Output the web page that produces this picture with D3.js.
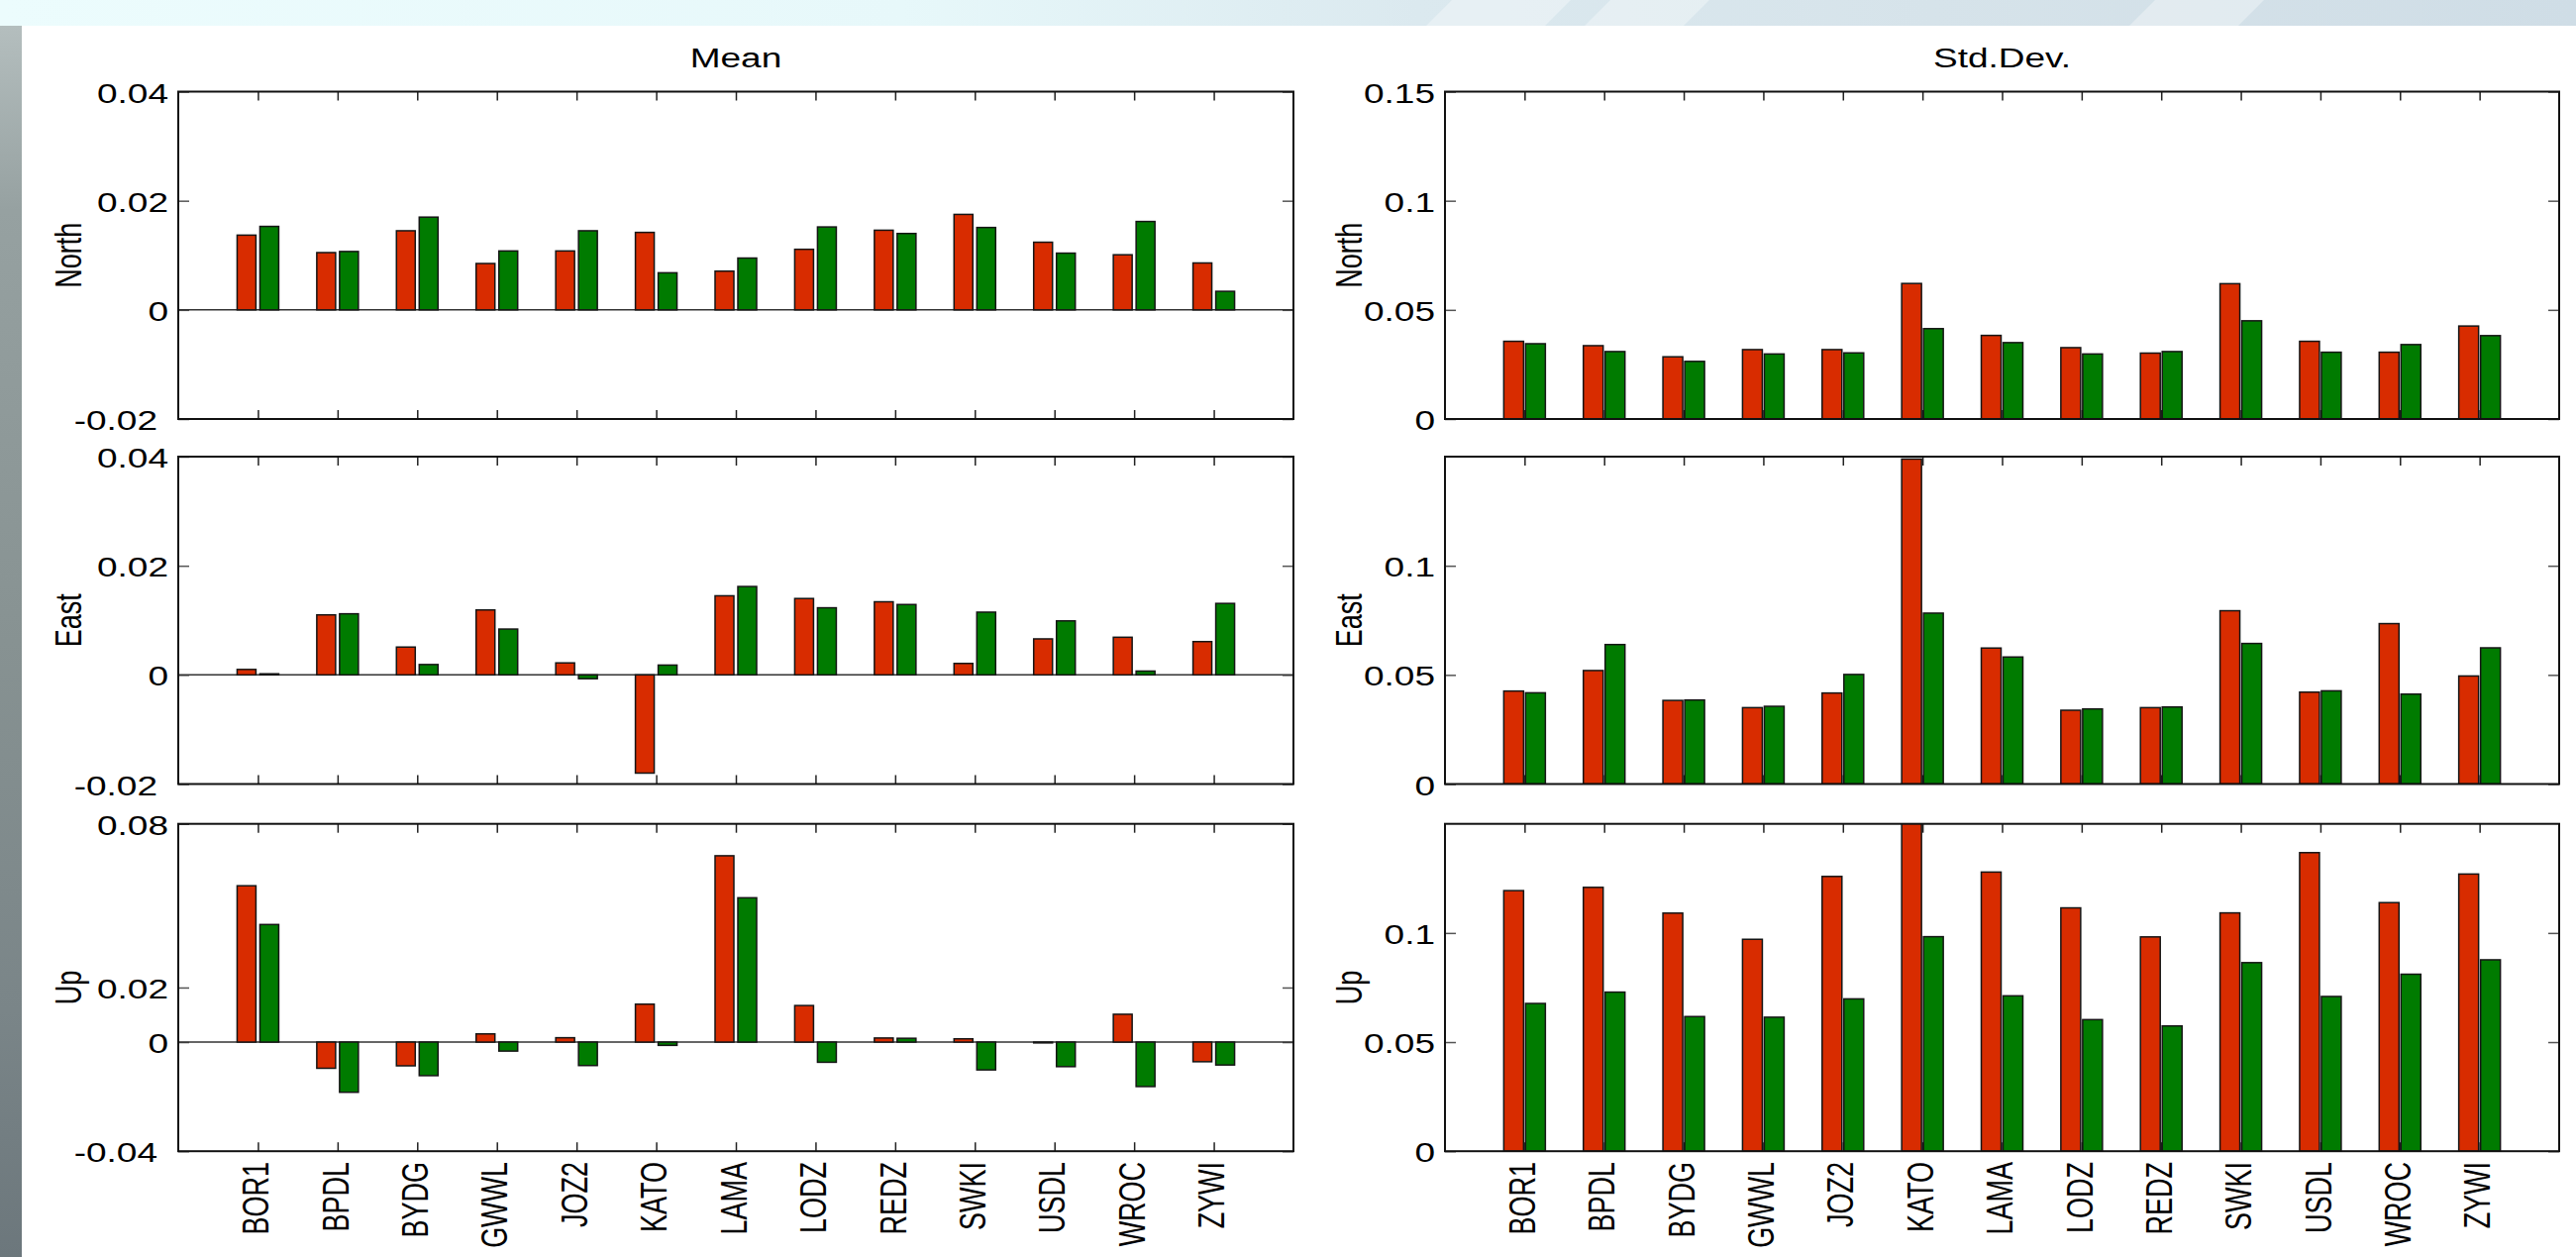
<!DOCTYPE html>
<html>
<head>
<meta charset="utf-8">
<script src="https://cdn.jsdelivr.net/npm/d3@7/dist/d3.min.js"></script>
<style>
  html, body { margin: 0; padding: 0; background: #ffffff; }
  svg { display: block; }
  text { font-family: "Liberation Sans", Arial, Helvetica, sans-serif; fill: #000; }
</style>
</head>
<body>
<svg id="fig" width="2601" height="1269"></svg>
<script>
// GPS stations along the horizontal axis
const stations = ["BOR1", "BPDL", "BYDG", "GWWL", "JOZ2", "KATO", "LAMA", "LODZ", "REDZ", "SWKI", "USDL", "WROC", "ZYWI"];

// Mean of the residuals [m] — red = first solution, green = second solution
const meanNorthRed   = [0.0137, 0.0105, 0.0145, 0.0085, 0.0108, 0.0142, 0.0071, 0.0111, 0.0146, 0.0175, 0.0124, 0.0101, 0.0086];
const meanNorthGreen = [0.0153, 0.0107, 0.0170, 0.0108, 0.0145, 0.0068, 0.0095, 0.0152, 0.0140, 0.0151, 0.0104, 0.0162, 0.0034];
const meanEastRed    = [0.0010, 0.0110, 0.0051, 0.0119, 0.0022, -0.0180, 0.0145, 0.0140, 0.0134, 0.0021, 0.0066, 0.0069, 0.0061];
const meanEastGreen  = [0.0002, 0.0112, 0.0019, 0.0084, -0.0007, 0.0018, 0.0162, 0.0123, 0.0129, 0.0115, 0.0099, 0.0007, 0.0131];
const meanUpRed      = [0.0573, -0.0096, -0.0087, 0.0030, 0.0016, 0.0139, 0.0683, 0.0134, 0.0015, 0.0012, -0.0003, 0.0102, -0.0072];
const meanUpGreen    = [0.0431, -0.0184, -0.0123, -0.0033, -0.0086, -0.0012, 0.0529, -0.0074, 0.0014, -0.0102, -0.0090, -0.0163, -0.0084];

// Standard deviation of the residuals [m]
const sdNorthRed   = [0.0356, 0.0336, 0.0285, 0.0318, 0.0318, 0.0621, 0.0383, 0.0327, 0.0302, 0.0620, 0.0356, 0.0306, 0.0426];
const sdNorthGreen = [0.0345, 0.0309, 0.0264, 0.0298, 0.0303, 0.0414, 0.0350, 0.0298, 0.0309, 0.0450, 0.0306, 0.0341, 0.0382];
const sdEastRed    = [0.0426, 0.0520, 0.0383, 0.0350, 0.0417, 0.1489, 0.0623, 0.0338, 0.0350, 0.0794, 0.0421, 0.0735, 0.0495];
const sdEastGreen  = [0.0418, 0.0639, 0.0385, 0.0356, 0.0502, 0.0783, 0.0582, 0.0344, 0.0353, 0.0644, 0.0427, 0.0412, 0.0624];
const sdUpRed      = [0.1194, 0.1209, 0.1091, 0.0971, 0.1259, 0.1520, 0.1279, 0.1115, 0.0982, 0.1092, 0.1368, 0.1139, 0.1270];
const sdUpGreen    = [0.0677, 0.0729, 0.0617, 0.0614, 0.0698, 0.0983, 0.0712, 0.0603, 0.0574, 0.0864, 0.0709, 0.0811, 0.0877];

// Axis limits and tick values of each panel
const meanNEDomain = [-0.02, 0.04];
const meanNETicks  = [-0.02, 0, 0.02, 0.04];
const meanUpDomain = [-0.04, 0.08];
const meanUpTicks  = [-0.04, 0, 0.02, 0.08];
const sdDomain     = [0, 0.15];
const sdNorthTicks = [0, 0.05, 0.1, 0.15];
const sdOtherTicks = [0, 0.05, 0.1];

const columnTitles = ["Mean", "Std.Dev."];
const rowLabels = ["North", "East", "Up"];

const RED = "#d82c00";
const GREEN = "#007b00";
const STRETCH = 1.37;       // text in this figure is horizontally widened
const FONT = 27;

const svg = d3.select("#fig");
const defs = svg.append("defs");

// ---- slide background decoration ----
const topGrad = defs.append("linearGradient").attr("id", "topband").attr("x1", 0).attr("x2", 1).attr("y1", 0).attr("y2", 0);
[[0, "#ecfcfd"], [0.35, "#e7f8fa"], [0.55, "#dbe9ef"], [0.75, "#d6e3ea"], [1, "#cfdde6"]].forEach(([o, c]) =>
  topGrad.append("stop").attr("offset", o).attr("stop-color", c));
const leftGrad = defs.append("linearGradient").attr("id", "leftband").attr("x1", 0).attr("x2", 0).attr("y1", 0).attr("y2", 1);
[[0, "#b4bebe"], [0.15, "#96a1a1"], [0.5, "#879292"], [0.8, "#7a8588"], [1, "#6c777c"]].forEach(([o, c]) =>
  leftGrad.append("stop").attr("offset", o).attr("stop-color", c));

svg.append("rect").attr("x", 0).attr("y", 0).attr("width", 2601).attr("height", 26).attr("fill", "url(#topband)");
svg.append("rect").attr("x", 0).attr("y", 26).attr("width", 22).attr("height", 1243).attr("fill", "url(#leftband)");
// faint diagonal highlights in the top band
[[1440, 1560], [1600, 1700], [2150, 2260]].forEach(([a, b]) =>
  svg.append("path")
    .attr("d", `M${a},26 L${a + 26},0 L${b + 26},0 L${b},26 Z`)
    .attr("fill", "#ffffff").attr("opacity", 0.35));

// ---- panel geometry ----
const columns = [
  { left: 180, right: 1306, barW: 19, offset: 11.5 },
  { left: 1459, right: 2584, barW: 20, offset: 11 }
];
const rowTops = [92.5, 461, 831.7];
const panelH = 330.5;

const panels = [
  { col: 0, row: 0, red: meanNorthRed, green: meanNorthGreen, domain: meanNEDomain, ticks: meanNETicks },
  { col: 0, row: 1, red: meanEastRed,  green: meanEastGreen,  domain: meanNEDomain, ticks: meanNETicks },
  { col: 0, row: 2, red: meanUpRed,    green: meanUpGreen,    domain: meanUpDomain, ticks: meanUpTicks },
  { col: 1, row: 0, red: sdNorthRed,   green: sdNorthGreen,   domain: sdDomain, ticks: sdNorthTicks },
  { col: 1, row: 1, red: sdEastRed,    green: sdEastGreen,    domain: sdDomain, ticks: sdOtherTicks },
  { col: 1, row: 2, red: sdUpRed,      green: sdUpGreen,      domain: sdDomain, ticks: sdOtherTicks }
];

const fmt = v => (v === 0 ? "0" : String(+v.toFixed(3)));

panels.forEach((p, idx) => {
  const c = columns[p.col];
  const top = rowTops[p.row];
  const bottom = top + panelH;
  const x = d3.scalePoint().domain(stations).range([c.left, c.right]).padding(1);
  const y = d3.scaleLinear().domain(p.domain).range([bottom, top]);
  const g = svg.append("g");

  const clipId = "clip" + idx;
  defs.append("clipPath").attr("id", clipId)
    .append("rect").attr("x", c.left).attr("y", top).attr("width", c.right - c.left).attr("height", panelH);

  // category ticks (top and bottom, pointing inward)
  g.append("g").attr("transform", `translate(0,${top})`)
    .call(d3.axisTop(x).tickSizeInner(-9).tickSizeOuter(0).tickFormat(""))
    .call(a => a.select(".domain").remove())
    .selectAll("line").attr("stroke", "#222").attr("stroke-width", 1.5);
  g.append("g").attr("transform", `translate(0,${bottom})`)
    .call(d3.axisBottom(x).tickSizeInner(-9).tickSizeOuter(0).tickFormat(""))
    .call(a => a.select(".domain").remove())
    .selectAll("line").attr("stroke", "#222").attr("stroke-width", 1.5);

  // value ticks on both sides, pointing inward
  const yl = g.append("g").attr("transform", `translate(${c.left},0)`)
    .call(d3.axisLeft(y).tickValues(p.ticks).tickSizeInner(-11).tickSizeOuter(0).tickPadding(0).tickFormat(fmt));
  yl.select(".domain").remove();
  yl.selectAll("line").attr("stroke", "#555").attr("stroke-width", 1.5);
  yl.selectAll("text")
    .attr("x", null).attr("dy", null)
    .attr("font-size", FONT)
    .attr("text-anchor", "end")
    .attr("transform", d => `translate(${d < 0 ? -21 : -10},10.5) scale(${STRETCH},1)`);
  const yr = g.append("g").attr("transform", `translate(${c.right},0)`)
    .call(d3.axisRight(y).tickValues(p.ticks).tickSizeInner(-11).tickSizeOuter(0).tickFormat(""));
  yr.select(".domain").remove();
  yr.selectAll("line").attr("stroke", "#555").attr("stroke-width", 1.5);

  // zero line of the mean panels
  if (p.domain[0] < 0) {
    g.append("line")
      .attr("x1", c.left).attr("x2", c.right)
      .attr("y1", y(0)).attr("y2", y(0))
      .attr("stroke", "#333").attr("stroke-width", 1.5);
  }

  // grouped bars
  const bars = g.append("g").attr("clip-path", `url(#${clipId})`);
  const series = [{ vals: p.red, color: RED, dx: -c.offset }, { vals: p.green, color: GREEN, dx: c.offset }];
  series.forEach(s => {
    bars.selectAll(null)
      .data(stations.map((st, i) => ({ st, v: s.vals[i] })))
      .join("rect")
      .attr("x", d => x(d.st) + s.dx - c.barW / 2)
      .attr("width", c.barW)
      .attr("y", d => Math.min(y(d.v), y(0)))
      .attr("height", d => Math.abs(y(d.v) - y(0)))
      .attr("fill", s.color)
      .attr("stroke", "#151515")
      .attr("stroke-width", 1.5);
  });

  // axes box
  g.append("rect")
    .attr("x", c.left).attr("y", top)
    .attr("width", c.right - c.left).attr("height", panelH)
    .attr("fill", "none").attr("stroke", "#111").attr("stroke-width", 2);

  // row label
  const labelX = p.col === 0 ? 69 : 1362;
  svg.append("text")
    .attr("transform", `translate(${labelX},${top + panelH / 2}) scale(${STRETCH},1) rotate(-90)`)
    .attr("text-anchor", "middle")
    .attr("dy", "0.36em")
    .attr("font-size", FONT)
    .text(rowLabels[p.row]);

  // column title
  if (p.row === 0) {
    svg.append("text")
      .attr("transform", `translate(${(c.left + c.right) / 2},68) scale(${STRETCH},1)`)
      .attr("text-anchor", "middle")
      .attr("font-size", FONT)
      .text(columnTitles[p.col]);
  }

  // station names under the bottom row
  if (p.row === 2) {
    svg.append("g").selectAll("text")
      .data(stations)
      .join("text")
      .attr("transform", d => `translate(${x(d)},${bottom + 10.7}) scale(${STRETCH},1) rotate(-90)`)
      .attr("text-anchor", "end")
      .attr("dy", 7.8)
      .attr("font-size", FONT)
      .text(d => d);
  }
});
</script>
</body>
</html>
